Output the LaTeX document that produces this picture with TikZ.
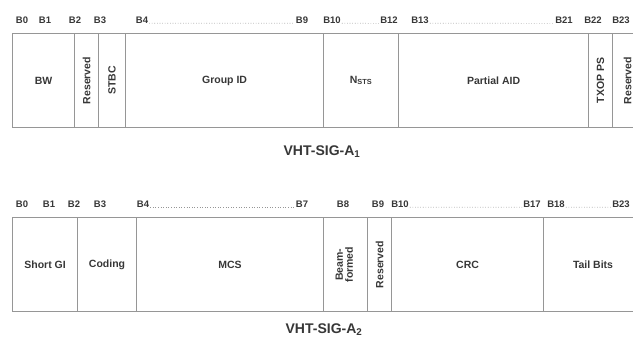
\documentclass[tikz,border=0pt]{standalone}
\usepackage{fontspec}
\setmainfont{Liberation Sans}
\usetikzlibrary{positioning}

\definecolor{linegray}{RGB}{150,150,150}
\definecolor{textgray}{RGB}{55,55,55}

\tikzset{
  field/.style={draw=linegray, line width=1.1pt, anchor=north west, inner sep=0pt,
    minimum height=94pt, text=textgray, font=\bfseries\fontsize{10.5}{12}\selectfont},
  bitlabel/.style={inner sep=1pt, text=textgray, font=\bfseries\fontsize{9.5}{10}\selectfont},
  bitdots/.style={draw=linegray, dotted, line width=0.6pt},
  sigtitle/.style={text=textgray, font=\bfseries\fontsize{14}{16}\selectfont}
}

\begin{document}
\begin{tikzpicture}[x=1pt,y=-1pt]
    \useasboundingbox (0,0) rectangle (633,342);

    % VHT-SIG-A1 fields
    \node[field, minimum width=62pt] (bw) at (12,33) {BW};
    \node[field, minimum width=24pt] (resA) at (74,33) {\rotatebox{90}{Reserved}};
    \node[field, minimum width=27pt] (stbc) at (98,33) {\rotatebox{90}{STBC}};
    \node[field, minimum width=198pt] (gid) at (125,33) {Group ID};
    \node[field, minimum width=75pt] (nsts) at (323,33) {N\textsubscript{STS}};
    \node[field, minimum width=190pt] (paid) at (398,33) {Partial AID};
    \node[field, minimum width=24pt] (txop) at (588,33) {\rotatebox{90}{TXOP PS}};
    \node[field, minimum width=30pt] (resB) at (612,33) {\rotatebox{90}{Reserved}};

    \foreach \name/\x/\txt in {ta0/22/B0, ta1/45/B1, ta2/75/B2, ta3/100/B3,
        ta4/142/B4, ta9/302/B9, ta10/332/B10, ta12/389/B12, ta13/420/B13,
        ta21/564/B21, ta22/593/B22, ta23/621/B23}
        \node[bitlabel] (\name) at (\x,20) {\txt};
    \draw[bitdots] (ta4.base east) -- (ta9.base west);
    \draw[bitdots] (ta10.base east) -- (ta12.base west);
    \draw[bitdots] (ta13.base east) -- (ta21.base west);

    \node[sigtitle] (titleA) at (322,152) {VHT-SIG-A\textsubscript{1}};

    % VHT-SIG-A2 fields
    \node[field, minimum width=65pt] (sgi) at (12,217) {Short GI};
    \node[field, minimum width=59pt] (coding) at (77,217) {Coding};
    \node[field, minimum width=187pt] (mcs) at (136,217) {MCS};
    \node[field, minimum width=44pt] (beam) at (323,217)
        {\rotatebox{90}{\begin{tabular}{@{}c@{}}Beam-\\[-2pt]formed\end{tabular}}};
    \node[field, minimum width=24pt] (resC) at (367,217) {\rotatebox{90}{Reserved}};
    \node[field, minimum width=152pt] (crc) at (391,217) {CRC};
    \node[field, minimum width=99pt] (tail) at (543,217) {Tail Bits};

    \foreach \name/\x/\txt in {tb0/22/B0, tb1/49/B1, tb2/74/B2, tb3/100/B3,
        tb4/143/B4, tb7/302/B7, tb8/343/B8, tb9/378/B9, tb10/400/B10,
        tb17/532/B17, tb18/556/B18, tb23/621/B23}
        \node[bitlabel] (\name) at (\x,204) {\txt};
    \draw[bitdots] (tb4.base east) -- (tb7.base west);
    \draw[bitdots] (tb10.base east) -- (tb17.base west);
    \draw[bitdots] (tb18.base east) -- (tb23.base west);

    \node[sigtitle] (titleB) at (324,330) {VHT-SIG-A\textsubscript{2}};
\end{tikzpicture}
\end{document}
